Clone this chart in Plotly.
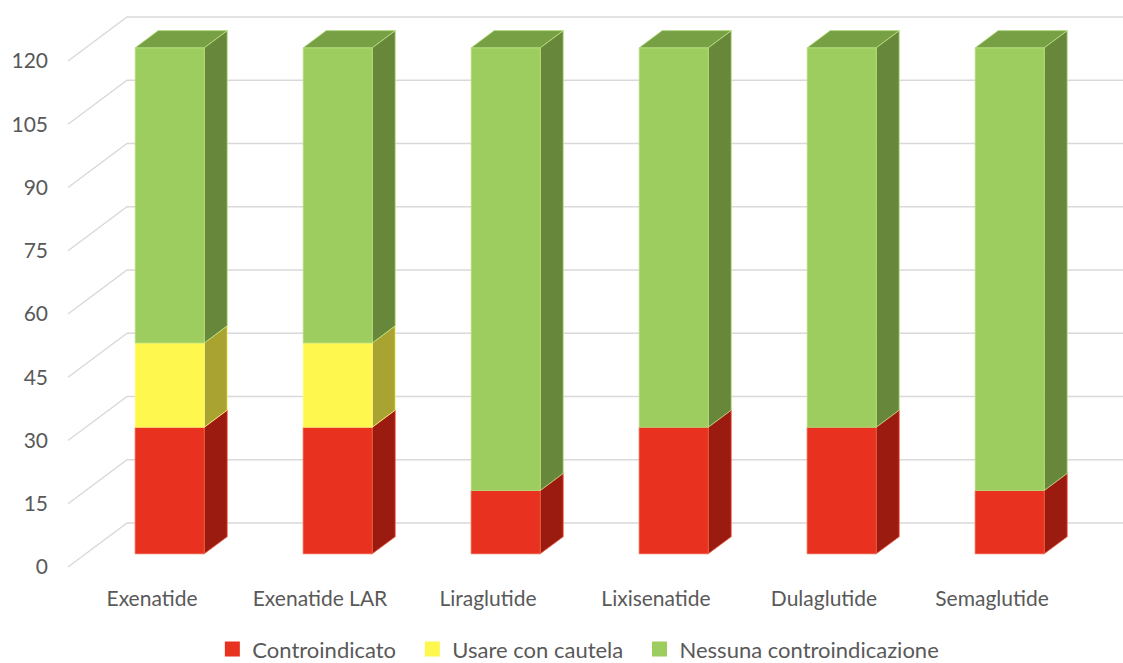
import plotly.graph_objects as go

# ---------------- data ----------------
categories = ["Exenatide", "Exenatide LAR", "Liraglutide", "Lixisenatide", "Dulaglutide", "Semaglutide"]
controindicato = [30, 30, 15, 30, 30, 15]
usare_con_cautela = [20, 20, 0, 0, 0, 0]
nessuna_controindicazione = [70, 70, 105, 90, 90, 105]
y_ticks = [0, 15, 30, 45, 60, 75, 90, 105, 120]

series_names = ["Controindicato", "Usare con cautela", "Nessuna controindicazione"]
series_values = [controindicato, usare_con_cautela, nessuna_controindicazione]

# ---------------- style ----------------
front_colors = ["#e8311f", "#fef74d", "#9dcd5f"]
side_colors = ["#9b1b10", "#a9a332", "#67883a"]
edge_colors = ["#ef5a40", "#fffa80", "#b8df80"]
top_color = "#77a045"
grid_color = "#d9d9d9"
text_color = "#595959"
FONT = "Lato, 'Open Sans', sans-serif"
legend_pad = ["\u00a0" * 2, "\u00a0" * 2, ""]   # extra spacing between legend entries

# oblique projection parameters (data units)
X0, X1 = -0.9048, 5.7798
Y0, Y1 = -22.77, 134.45
DX, DY = 0.3512, 10.43     # full floor depth vector
F0, F1 = 0.30, 0.69        # bar depth placement (fraction of floor depth)
HW = 0.2054                # bar half width (category units)
XL = -0.5                  # left edge of front floor

fig = go.Figure()

# ---- gridlines (front-left diagonal + back wall) ----
gx, gy = [], []
for v in y_ticks:
    gx += [XL, XL + DX, X1, None]
    gy += [v, v + DY, v + DY, None]
fig.add_trace(go.Scatter(x=gx, y=gy, mode="lines", line=dict(color=grid_color, width=1.4),
                         hoverinfo="skip", showlegend=False))

# ---- bars ----
n = len(categories)
fronts = [([], []) for _ in series_values]
sides = [([], []) for _ in series_values]
tops = ([], [])
for i in range(n):
    base = 0
    last_top = None
    for s, vals in enumerate(series_values):
        val = vals[i]
        if val <= 0:
            continue
        b, t = base, base + val
        xl, xr = i - HW + F0 * DX, i + HW + F0 * DX
        xr2 = i + HW + F1 * DX
        fx, fy = fronts[s]
        fx += [xl, xr, xr, xl, xl, None]
        fy += [b + F0 * DY, b + F0 * DY, t + F0 * DY, t + F0 * DY, b + F0 * DY, None]
        sx, sy = sides[s]
        sx += [xr, xr2, xr2, xr, xr, None]
        sy += [b + F0 * DY, b + F1 * DY, t + F1 * DY, t + F0 * DY, b + F0 * DY, None]
        base = t
        last_top = t
    if last_top is not None:
        xl, xr = i - HW + F0 * DX, i + HW + F0 * DX
        xl2, xr2 = i - HW + F1 * DX, i + HW + F1 * DX
        tx, ty = tops
        tx += [xl, xr, xr2, xl2, xl, None]
        ty += [last_top + F0 * DY, last_top + F0 * DY, last_top + F1 * DY, last_top + F1 * DY,
               last_top + F0 * DY, None]

for s in range(len(series_values)):
    fig.add_trace(go.Scatter(x=sides[s][0], y=sides[s][1], mode="lines", fill="toself",
                             fillcolor=side_colors[s], line=dict(color=edge_colors[s], width=0.8),
                             hoverinfo="skip", showlegend=False))
    fig.add_trace(go.Scatter(x=fronts[s][0], y=fronts[s][1], mode="lines", fill="toself",
                             fillcolor=front_colors[s], line=dict(color=edge_colors[s], width=0.8),
                             hoverinfo="skip", showlegend=False))
fig.add_trace(go.Scatter(x=tops[0], y=tops[1], mode="lines", fill="toself",
                         fillcolor=top_color, line=dict(color=edge_colors[2], width=0.8),
                         hoverinfo="skip", showlegend=False))

# ---- legend entries ----
for s, name in enumerate(series_names):
    fig.add_trace(go.Scatter(x=[None], y=[None], mode="markers", name=name + legend_pad[s],
                             marker=dict(symbol="square", size=15, color=front_colors[s])))

fig.update_layout(
    width=1123, height=663,
    margin=dict(l=0, r=0, t=0, b=0, autoexpand=False),
    paper_bgcolor="white", plot_bgcolor="white",
    font=dict(family=FONT, color=text_color),
    showlegend=True,
    legend=dict(orientation="h", x=0.515, xanchor="center", y=-0.011, yanchor="bottom",
                font=dict(size=22, color=text_color, family=FONT),
                itemclick=False, itemdoubleclick=False),
    xaxis=dict(range=[X0, X1], tickvals=list(range(n)), ticktext=categories,
               anchor="free", position=(663 - 584) / 663,
               showgrid=False, zeroline=False, showline=False, ticks="",
               tickfont=dict(size=21, color=text_color, family=FONT), fixedrange=True),
    yaxis=dict(range=[Y0, Y1], tickvals=y_ticks, ticktext=[str(v) for v in y_ticks],
               anchor="free", position=48 / 1123,
               showgrid=False, zeroline=False, showline=False, ticks="",
               tickfont=dict(size=21, color=text_color, family=FONT), fixedrange=True),
)

fig.write_html("out.html")
